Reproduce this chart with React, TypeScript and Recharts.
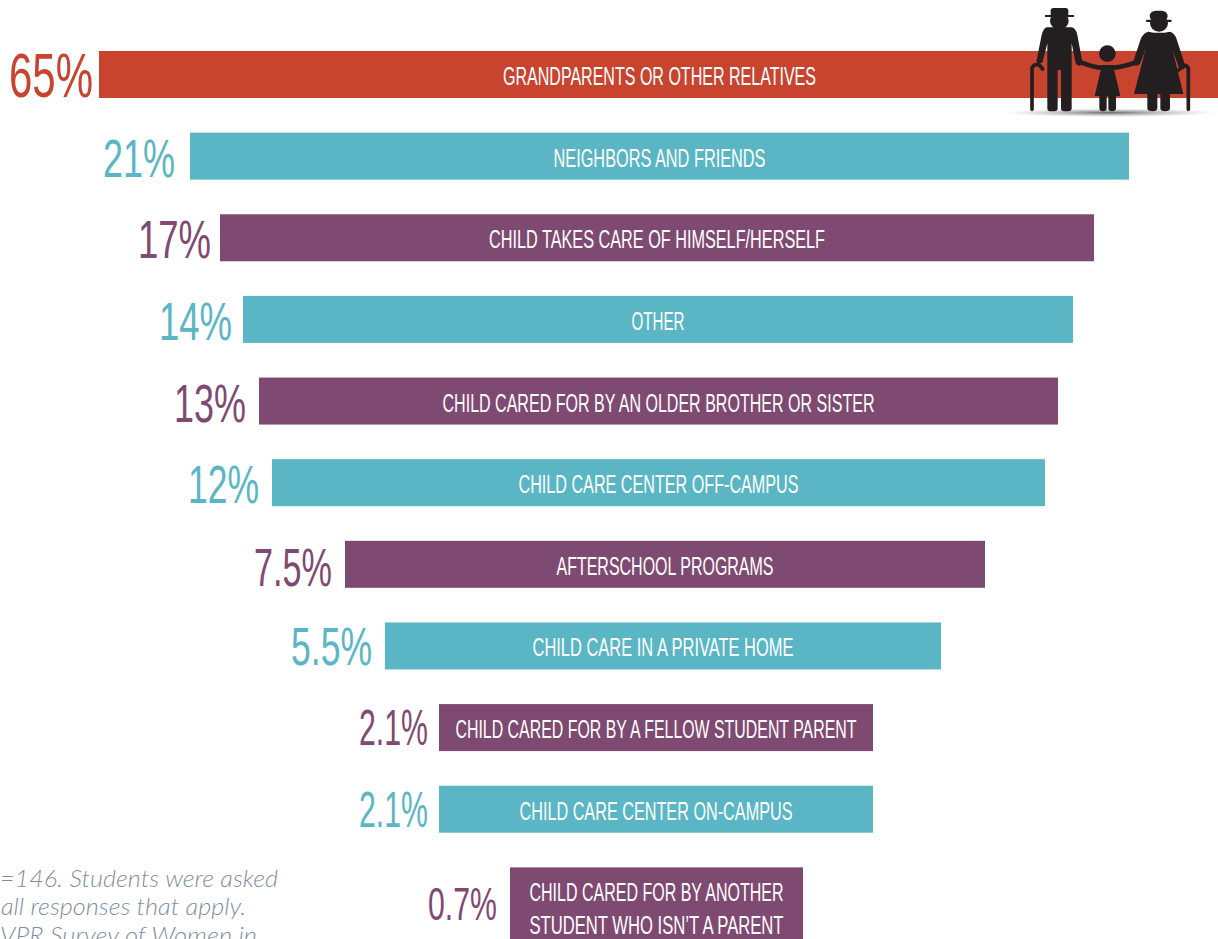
import React from "react";
import { BarChart, Bar, XAxis, YAxis, Cell } from "recharts";

// Data
const categories = [
  "GRANDPARENTS OR OTHER RELATIVES",
  "NEIGHBORS AND FRIENDS",
  "CHILD TAKES CARE OF HIMSELF/HERSELF",
  "OTHER",
  "CHILD CARED FOR BY AN OLDER BROTHER OR SISTER",
  "CHILD CARE CENTER OFF-CAMPUS",
  "AFTERSCHOOL PROGRAMS",
  "CHILD CARE IN A PRIVATE HOME",
  "CHILD CARED FOR BY A FELLOW STUDENT PARENT",
  "CHILD CARE CENTER ON-CAMPUS",
  "CHILD CARED FOR BY ANOTHER|STUDENT WHO ISN\u2019T A PARENT",
];
const shares = [65, 21, 17, 14, 13, 12, 7.5, 5.5, 2.1, 2.1, 0.7];
const shareLabels = ["65%", "21%", "17%", "14%", "13%", "12%", "7.5%", "5.5%", "2.1%", "2.1%", "0.7%"];
// The source centres its bars and does not draw lengths to the value scale,
// so each bar's extent is read separately on the chart's horizontal axis.
const barStart = [99, 190, 220, 243, 259, 272, 345, 385, 439, 439, 510];
const barEnd = [1220, 1129, 1094, 1073, 1058, 1045, 985, 941, 873, 873, 803];

const RED = "#C8442F";
const TEAL = "#5AB6C4";
const PURPLE = "#7F4A72";
const seriesColors = [RED, TEAL, PURPLE, TEAL, PURPLE, TEAL, PURPLE, TEAL, PURPLE, TEAL, PURPLE];

// Text fit
const labelWidths = [313, 212, 336, 53, 432, 280, 217, 261, 401, 273, 254];
const pctWidths = [84, 72, 73, 73, 72, 71, 78, 81, 69, 69, 69];
const pctFontSizes = [63, 54, 54, 54, 54, 54, 54, 54, 50, 50, 47];
const pctGaps = [6, 15, 9, 11, 13, 13, 13, 13, 11, 11, 13];
const pctBaselines = [46, 44, 44, 44, 44, 44, 45, 43, 41, 41, 53];
const FONT = '"Liberation Sans Narrow", "Liberation Sans", Roboto, sans-serif';

const data = categories.map((category, i) => ({
  category,
  share: shares[i],
  extent: [barStart[i], barEnd[i]],
}));

function BarShape(props: any) {
  const { x, y, width, height, index, fill } = props;
  const lines = categories[index].split("|");
  const two = lines.length > 1;
  const cx = x + width / 2;
  const h = two ? height * 1.6 : height;
  const fs = pctFontSizes[index];
  return (
    <g>
      <rect x={x} y={y} width={width} height={h} fill={fill} />
      {lines.map((line: string, k: number) => (
        <text
          key={k}
          x={cx}
          y={y + (two ? 34 + k * 33 : 34)}
          textAnchor="middle"
          fill="#FFFFFF"
          fontFamily={FONT}
          fontSize={25}
          textLength={labelWidths[index]}
          lengthAdjust="spacingAndGlyphs"
        >
          {line}
        </text>
      ))}
      <text
        x={x - pctGaps[index] - pctWidths[index]}
        y={y + pctBaselines[index]}
        fill={fill}
        fontFamily={FONT}
        fontSize={fs}
        textLength={pctWidths[index]}
        lengthAdjust="spacingAndGlyphs"
      >
        {shareLabels[index]}
      </text>
    </g>
  );
}

function Family() {
  const ink = "#231F20";
  return (
    <g transform="translate(1000,0) scale(0.33333)">
      <ellipse cx="330" cy="338" rx="320" ry="13" fill="url(#shadowFade)" />
      {/* man */}
      <rect x="152" y="24" width="53" height="28" rx="8" fill={ink} />
      <rect x="135" y="45" width="87" height="6" fill={ink} />
      <ellipse cx="178" cy="63" rx="28" ry="25" fill={ink} />
      <path
        d="M140 82 L215 82 Q228 85 232 105 L247 185 Q248 197 238 197 Q228 197 226 185 L215 130 L215 325 Q215 334 205 334 L192 334 Q183 334 183 325 L183 210 L173 210 L173 325 Q173 334 163 334 L150 334 Q142 334 142 325 L142 130 L128 185 Q125 192 115 190 Q108 188 110 180 L125 105 Q130 85 140 82 Z"
        fill={ink}
      />
      <path d="M96 328 L96 205 Q100 190 118 195 L128 207" fill="none" stroke={ink} strokeWidth="11" strokeLinecap="round" />
      {/* child */}
      <circle cx="322" cy="161" r="25" fill={ink} />
      <path d="M245 188 Q290 205 310 203 L335 203 Q360 203 405 188" fill="none" stroke={ink} strokeWidth="14" strokeLinecap="round" />
      <path d="M306 195 L339 195 L361 288 L284 288 Z" fill={ink} />
      <path d="M298 285 L320 285 L320 325 Q320 334 309 334 Q298 334 298 325 Z M325 285 L348 285 L348 325 Q348 334 336 334 Q325 334 325 325 Z" fill={ink} />
      {/* woman */}
      <rect x="449" y="32" width="54" height="32" rx="18" fill={ink} />
      <rect x="438" y="59" width="77" height="7" rx="3" fill={ink} />
      <ellipse cx="477" cy="70" rx="27" ry="25" fill={ink} />
      <path
        d="M445 95 Q477 102 510 95 Q525 100 530 118 L556 198 Q556 208 546 208 Q538 208 534 195 L518 150 L550 282 L402 282 L436 150 L420 192 Q412 200 402 196 Q396 192 400 184 L422 118 Q428 100 445 95 Z"
        fill={ink}
      />
      <path d="M442 280 L472 280 L472 325 Q472 334 458 334 Q442 334 442 325 Z M481 280 L510 280 L510 325 Q510 334 495 334 Q481 334 481 325 Z" fill={ink} />
      <path d="M565 328 L565 205 Q560 193 548 197 L536 210" fill="none" stroke={ink} strokeWidth="11" strokeLinecap="round" />
    </g>
  );
}

export default function App() {
  return (
    <div style={{ position: "absolute", left: 0, top: 0, width: 1218, height: 939, overflow: "hidden", background: "#fff" }}>
      <div style={{ position: "absolute", left: 0, top: 0 }}>
        <BarChart
          width={1218}
          height={939}
          data={data}
          layout="vertical"
          margin={{ top: 34, right: 0, bottom: 7, left: 0 }}
          barCategoryGap={0}
        >
          <XAxis type="number" domain={[0, 1218]} allowDataOverflow hide />
          <YAxis type="category" dataKey="category" hide />
          <Bar dataKey="extent" barSize={47} isAnimationActive={false} shape={BarShape}>
            {data.map((_, i) => (
              <Cell key={i} fill={seriesColors[i]} />
            ))}
          </Bar>
        </BarChart>
      </div>
      <svg width={1218} height={939} style={{ position: "absolute", left: 0, top: 0 }}>
        <defs>
          <radialGradient id="shadowFade">
            <stop offset="0%" stopColor="#444" stopOpacity="0.8" />
            <stop offset="100%" stopColor="#999" stopOpacity="0" />
          </radialGradient>
        </defs>
        <Family />
        <g fontFamily="Lato, sans-serif" fontStyle="italic" fontWeight={300} fontSize={24} fill="#7F8FA0">
          <text x={0} y={887} textLength={278} lengthAdjust="spacingAndGlyphs">=146. Students were asked</text>
          <text x={1} y={915} textLength={245} lengthAdjust="spacingAndGlyphs">all responses that apply.</text>
          <text x={0} y={944} textLength={257} lengthAdjust="spacingAndGlyphs">VPR Survey of Women in</text>
        </g>
      </svg>
    </div>
  );
}
